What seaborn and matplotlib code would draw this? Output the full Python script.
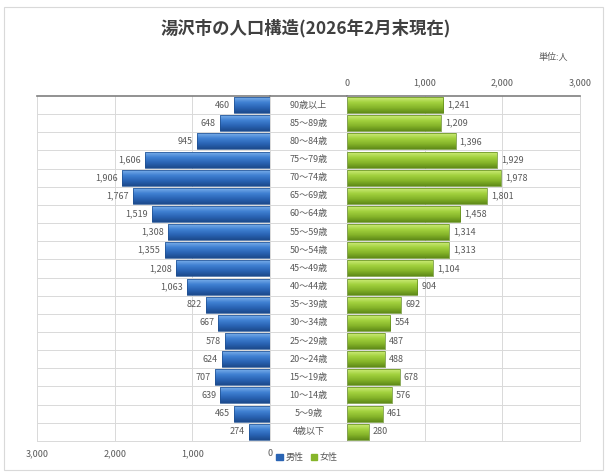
import numpy as np
import pandas as pd
import matplotlib
matplotlib.use('Agg')
import matplotlib.pyplot as plt
import seaborn as sns
from matplotlib.patches import Rectangle
from matplotlib.colors import LinearSegmentedColormap

# age groups, oldest first (top of the pyramid)
ages = ['90歳以上', '85～89歳', '80～84歳', '75～79歳', '70～74歳', '65～69歳',
        '60～64歳', '55～59歳', '50～54歳', '45～49歳', '40～44歳', '35～39歳',
        '30～34歳', '25～29歳', '20～24歳', '15～19歳', '10～14歳', '5～9歳', '4歳以下']
male = [460, 648, 945, 1606, 1906, 1767, 1519, 1308, 1355, 1208,
        1063, 822, 667, 578, 624, 707, 639, 465, 274]
female = [1241, 1209, 1396, 1929, 1978, 1801, 1458, 1314, 1313, 1104,
          904, 692, 554, 487, 488, 678, 576, 461, 280]
ticks = [0, 1000, 2000, 3000]

df = pd.DataFrame({'age': ages, 'male': male, 'female': female})

sns.set_style('white')
plt.rcParams['font.family'] = ['Noto Sans CJK JP', 'DejaVu Sans']

blue = '#3b7dd0'
green = '#9bcb3c'
grid_c = '#d9d9d9'
text_c = '#595959'

blue_cm = LinearSegmentedColormap.from_list('b', ['#7aaeea', '#3f80d2', '#2a64b4', '#1c4a8c'])
green_cm = LinearSegmentedColormap.from_list('g', ['#cdeb78', '#a2d13e', '#86b52a', '#5f8a18'])


def shade(ax, cmap):
    # vertical gradient inside each bar, clipped to the bar shape
    xl, yl = ax.get_xlim(), ax.get_ylim()
    grad = np.linspace(0, 1, 64).reshape(-1, 1)
    for p in ax.patches:
        x0, y0 = p.get_x(), p.get_y()
        w, h = p.get_width(), p.get_height()
        im = ax.imshow(grad, cmap=cmap, aspect='auto', interpolation='bilinear',
                       extent=[x0, x0 + w, y0 + h, y0], zorder=2)
        im.set_clip_path(p)
        p.set_facecolor('none')
        p.set_zorder(3)
    ax.set_xlim(xl)
    ax.set_ylim(yl)


fig = plt.figure(figsize=(6.08, 4.73), dpi=100)
fig.patches.append(Rectangle((0.007, 0.006), 0.985, 0.98, transform=fig.transFigure,
                             fill=False, edgecolor='#d9d9d9', lw=0.8))

bottom, height = 0.068, 0.729
axL = fig.add_axes([0.061, bottom, 0.383, height])
axM = fig.add_axes([0.444, bottom, 0.127, height])
axR = fig.add_axes([0.571, bottom, 0.383, height])

sns.barplot(data=df, x='male', y='age', orient='h', color=blue, width=0.88,
            edgecolor='#1f4f8f', linewidth=0.5, ax=axL, saturation=1)
sns.barplot(data=df, x='female', y='age', orient='h', color=green, width=0.88,
            edgecolor='#5f8a1c', linewidth=0.5, ax=axR, saturation=1)

axL.set_xlim(3000, 0)
axR.set_xlim(0, 3000)
n = len(ages)
for ax in (axL, axM, axR):
    ax.set_ylim(n - 0.5, -0.5)
    ax.set_ylabel('')
    ax.set_xlabel('')
    for k in range(n):
        ax.axhline(k + 0.5, color=grid_c, lw=0.7, zorder=0)
    for s in ax.spines.values():
        s.set_color(grid_c)
        s.set_linewidth(0.7)
    ax.spines['top'].set_color('#7f7f7f')
    ax.spines['top'].set_linewidth(1.2)
    ax.set_yticks([])

for x in (1000, 2000):
    axL.axvline(x, color=grid_c, lw=0.7, zorder=0)
    axR.axvline(x, color=grid_c, lw=0.7, zorder=0)

shade(axL, blue_cm)
shade(axR, green_cm)

axL.set_xticks(ticks)
axL.set_xticklabels([f'{t:,}' for t in ticks], fontsize=6.5, color=text_c)
axL.tick_params(axis='x', length=0, pad=6)

axR.xaxis.tick_top()
axR.set_xticks(ticks)
axR.set_xticklabels([f'{t:,}' for t in ticks], fontsize=6.5, color=text_c)
axR.tick_params(axis='x', length=0, pad=6)

axM.set_xticks([])
axM.set_xlim(0, 1)
for k, a in enumerate(ages):
    axM.text(0.5, k, a, ha='center', va='center', fontsize=6.5, color=text_c)

axL.bar_label(axL.containers[0], labels=[f'{v:,}' for v in male],
              padding=3, fontsize=6.5, color=text_c)
axR.bar_label(axR.containers[0], labels=[f'{v:,}' for v in female],
              padding=3, fontsize=6.5, color=text_c)

fig.text(0.502, 0.94, '湯沢市の人口構造(2026年2月末現在)', ha='center', va='center',
         fontsize=12.5, fontweight='bold', color='#404040')
fig.text(0.935, 0.878, '単位:人', ha='right', va='center', fontsize=6.5, color=text_c)

handles = [Rectangle((0, 0), 1, 1, color='#2a64b4'), Rectangle((0, 0), 1, 1, color='#86b52a')]
fig.legend(handles, ['男性', '女性'], loc='center', bbox_to_anchor=(0.505, 0.032),
           ncol=2, frameon=False, fontsize=6.5, handlelength=0.7, handleheight=0.7,
           handletextpad=0.3, columnspacing=0.8, labelcolor=text_c)

fig.savefig('out.png', dpi=100)
